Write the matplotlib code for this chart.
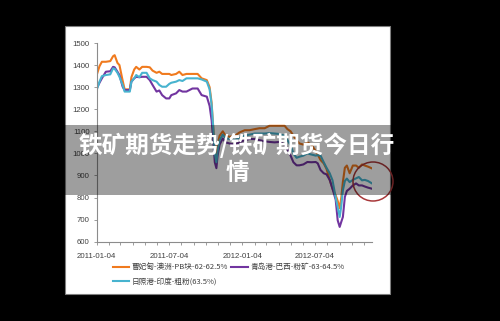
import matplotlib
matplotlib.use("Agg")
from matplotlib import pyplot as plt
import matplotlib.dates as mdates
from matplotlib.patches import Rectangle, Ellipse
import pandas as pd

dates = ["2011-01-04", "2011-01-11", "2011-01-17", "2011-01-27", "2011-02-07",
         "2011-02-14", "2011-02-18", "2011-02-25", "2011-03-02", "2011-03-10",
         "2011-03-15", "2011-03-28", "2011-04-01", "2011-04-08", "2011-04-13",
         "2011-04-21", "2011-04-28", "2011-05-09", "2011-05-17", "2011-05-24",
         "2011-06-03", "2011-06-10", "2011-06-17", "2011-06-27", "2011-07-05",
         "2011-07-10", "2011-07-22", "2011-07-30", "2011-08-07", "2011-08-17",
         "2011-09-01", "2011-09-14", "2011-09-24", "2011-10-07", "2011-10-14",
         "2011-10-19", "2011-10-23", "2011-10-27", "2011-10-31", "2011-11-03",
         "2011-11-08", "2011-11-16", "2011-11-23", "2011-12-03", "2011-12-16",
         "2011-12-28", "2012-01-10", "2012-01-22", "2012-02-04", "2012-02-16",
         "2012-02-29", "2012-03-12", "2012-03-25", "2012-04-06", "2012-04-19",
         "2012-04-26", "2012-05-04", "2012-05-11", "2012-05-19", "2012-05-26",
         "2012-06-05", "2012-06-15", "2012-06-25", "2012-07-06", "2012-07-11",
         "2012-07-18", "2012-07-26", "2012-08-02", "2012-08-10", "2012-08-17",
         "2012-08-25", "2012-08-30", "2012-09-04", "2012-09-08", "2012-09-12",
         "2012-09-17", "2012-09-22", "2012-09-29", "2012-10-07", "2012-10-15",
         "2012-10-22", "2012-10-30", "2012-11-06", "2012-11-14", "2012-11-24"]

caofeidian_pb = [1355, 1395, 1415, 1415, 1418, 1440, 1445, 1410, 1400, 1330,
                 1290, 1290, 1345, 1380, 1392, 1380, 1392, 1392, 1390, 1375,
                 1365, 1370, 1360, 1360, 1360, 1355, 1360, 1370, 1355, 1360,
                 1360, 1360, 1340, 1332, 1300, 1230, 1120, 1010, 990, 1040,
                 1080, 1100, 1080, 1075, 1080, 1095, 1105, 1105, 1110, 1114,
                 1114, 1125, 1125, 1125, 1125, 1110, 1100, 1080, 1060, 1045,
                 1040, 1050, 1040, 1010, 995, 970, 955, 930, 880, 840,
                 810, 785, 752, 800, 870, 935, 945, 910, 945, 945,
                 935, 950, 945, 940, 932]

qingdao_brazil = [1294, 1320, 1340, 1370, 1372, 1392, 1390, 1370, 1355, 1302,
                  1287, 1287, 1325, 1340, 1347, 1345, 1347, 1347, 1332, 1310,
                  1280, 1285, 1264, 1249, 1249, 1264, 1272, 1287, 1280, 1280,
                  1294, 1294, 1264, 1257, 1215, 1150, 1060, 960, 933, 990,
                  1040, 1068, 1050, 1045, 1040, 1050, 1060, 1065, 1065, 1060,
                  1055, 1052, 1050, 1052, 1040, 1020, 990, 960, 946, 946,
                  950, 961, 960, 961, 955, 925, 910, 905, 880, 840,
                  790, 697, 667, 690, 712, 803, 830, 840, 855, 864,
                  855, 855, 850, 845, 840]

rizhao_india = [1287, 1325, 1350, 1355, 1358, 1385, 1383, 1365, 1347, 1310,
                1280, 1280, 1325, 1340, 1355, 1345, 1365, 1365, 1340, 1332,
                1325, 1310, 1302, 1302, 1315, 1320, 1325, 1332, 1328, 1340,
                1340, 1340, 1335, 1325, 1290, 1220, 1120, 1000, 960, 1010,
                1060, 1085, 1070, 1065, 1060, 1070, 1080, 1085, 1090, 1090,
                1090, 1092, 1090, 1088, 1080, 1060, 1037, 1000, 980, 985,
                990, 1000, 995, 990, 992, 990, 960, 935, 910, 878,
                800, 757, 712, 760, 833, 875, 886, 870, 880, 887,
                893, 878, 880, 875, 864]

labels = ["曹妃甸-澳洲-PB块-62-62.5%", "青岛港-巴西-粉矿-63-64.5%",
          "日照港-印度-粗粉(63.5%)"]
colors = ["#F07A1E", "#7235A0", "#47B3CF"]
title = ["铁矿期货走势/铁矿期货今日行", "情"]

x = pd.to_datetime(dates)
tick_col = "#404040"
cjk = ["Noto Sans CJK SC", "DejaVu Sans"]

fig = plt.figure(figsize=(5, 3.21), dpi=100)
fig.patch.set_facecolor("black")

# white chart panel
fig.add_artist(Rectangle((0.13, 0.084), 0.65, 0.835, transform=fig.transFigure,
                         facecolor="white", edgecolor="#7f7f7f", lw=0.8,
                         zorder=-2))

ax = fig.add_axes([0.1934, 0.247, 0.5506, 0.619])
ax.set_facecolor("none")
lines = []
for ys, c in zip([caofeidian_pb, qingdao_brazil, rizhao_india], colors):
    (ln, ) = ax.plot(x, ys, color=c, lw=1.5)
    lines.append(ln)

ax.set_ylim(600, 1500)
ax.set_yticks(range(600, 1501, 100))
ax.set_xlim(x[0], x[-1])
ax.xaxis.set_major_locator(mdates.MonthLocator(bymonth=[1, 7], bymonthday=4))
ax.xaxis.set_minor_locator(mdates.MonthLocator(bymonthday=4))
ax.xaxis.set_major_formatter(mdates.DateFormatter("%Y-%m-%d"))
for s in ["top", "right"]:
    ax.spines[s].set_visible(False)
for s in ["left", "bottom"]:
    ax.spines[s].set_color("#8c8c8c")
    ax.spines[s].set_linewidth(0.8)
ax.tick_params(axis="both", which="both", length=2, width=0.6,
               color="#8c8c8c", labelcolor=tick_col)
ax.tick_params(axis="y", labelsize=5.6, pad=3)
ax.tick_params(axis="x", labelsize=5.7, pad=6)
for t in ax.get_xticklabels() + ax.get_yticklabels():
    t.set_family("Liberation Sans")

leg = ax.legend([lines[0], lines[2], lines[1]],
                [labels[0], labels[2], labels[1]],
                ncol=2, loc="center", bbox_to_anchor=(0.457, 0.145),
                bbox_transform=fig.transFigure, frameon=False,
                prop={"family": cjk, "size": 5.5}, handlelength=2.2,
                handletextpad=0.3, columnspacing=0.4, labelspacing=0.8,
                borderpad=0)
for t in leg.get_texts():
    t.set_color(tick_col)

# highlight circle
fig.add_artist(Ellipse((0.746, 0.4346), 0.08, 0.1215, transform=fig.transFigure,
                       fill=False, edgecolor="#A8383A", lw=1.1, zorder=4))

# grey title band
fig.add_artist(Rectangle((0, 0.3925), 1, 0.218, transform=fig.transFigure,
                         facecolor="black", alpha=0.38, lw=0, zorder=5))
fig.text(0.474, 1 - 145 / 321, title[0], ha="center", va="center",
         color="white", fontsize=17, fontweight="bold", family=cjk, zorder=6)
fig.text(0.474, 1 - 173 / 321, title[1], ha="center", va="center",
         color="white", fontsize=17, fontweight="bold", family=cjk, zorder=6)

fig.savefig("out.png", dpi=100, facecolor=fig.get_facecolor())
